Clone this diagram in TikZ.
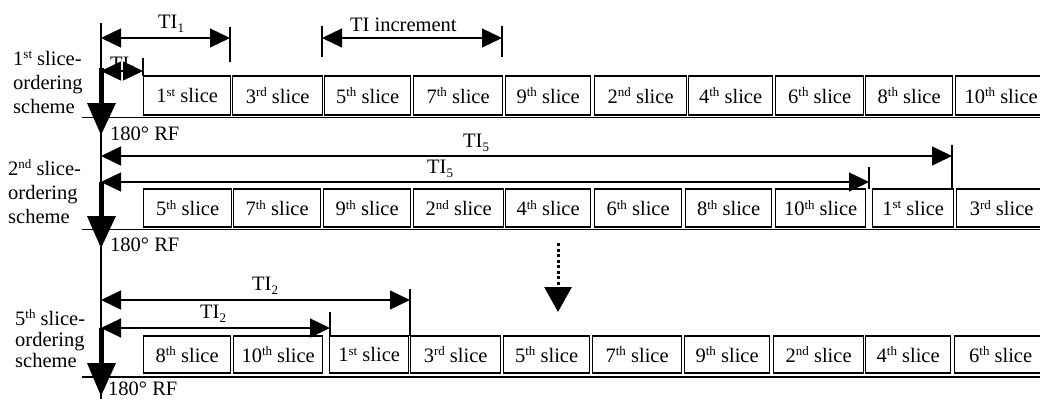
\documentclass[tikz,border=0pt]{standalone}
\usepackage{fontspec}
\setmainfont{Liberation Serif}
\usetikzlibrary{arrows.meta}
\newcommand\supx[1]{\raisebox{6.5pt}{\fontsize{13}{13}\selectfont #1}}
\newcommand\subx[1]{\raisebox{-4pt}{\fontsize{13}{13}\selectfont #1}}
\begin{document}
\begin{tikzpicture}[x=1pt,y=-1pt,
  txt/.style={font=\fontsize{20.5}{24}\selectfont, inner sep=0pt},
  lbl/.style={txt, anchor=base west},
  slicebox/.style={txt, draw, line width=1.3pt, anchor=west},
  thinline/.style={line width=1.3pt},
  baseln/.style={line width=1.6pt},
  dim/.style={line width=1.3pt, arrows={Triangle[length=20pt,width=19pt]-Triangle[length=20pt,width=19pt]}},
  dotarrow/.style={line width=3pt, dash pattern=on 3pt off 2.5pt, arrows={-Triangle[length=25pt,width=27pt]}}
]
\useasboundingbox (0,0) rectangle (1040,399);

% axis
\coordinate (ax1) at (101,23);
\coordinate (ax2) at (101,399);
\draw[thinline] (ax1) -- (ax2);

% baselines
\coordinate (b1s) at (82,117.5); \coordinate (b1e) at (1040,117.5);
\coordinate (b2s) at (82,229.5); \coordinate (b2e) at (1040,229.5);
\coordinate (b3s) at (82,377); \coordinate (b3e) at (1040,377);
\draw[baseln] (b1s) -- (b1e);
\draw[baseln] (b2s) -- (b2e);
\draw[baseln] (b3s) -- (b3e);

% row 1 boxes
\foreach \a/\b/\t [count=\i] in {
  143/230/{1\supx{st} slice}, 232/322/{3\supx{rd} slice}, 324/410/{5\supx{th} slice},
  413/502/{7\supx{th} slice}, 505/590/{9\supx{th} slice}, 594/686/{2\supx{nd} slice},
  688/772/{4\supx{th} slice}, 775/863/{6\supx{th} slice}, 865/952/{8\supx{th} slice},
  955/1046/{10\supx{th} slice}}
  \node[slicebox, minimum width={\b-\a}, minimum height=39] (ra\i) at (\a,95.5) {\t};

% row 2 boxes
\foreach \a/\b/\t [count=\i] in {
  143/231/{5\supx{th} slice}, 233/320/{7\supx{th} slice}, 323/410/{9\supx{th} slice},
  413/503/{2\supx{nd} slice}, 505/590/{4\supx{th} slice}, 594/681/{6\supx{th} slice},
  685/771/{8\supx{th} slice}, 775/865/{10\supx{th} slice}, 872/953/{1\supx{st} slice},
  956/1046/{3\supx{rd} slice}}
  \node[slicebox, minimum width={\b-\a}, minimum height=38] (rb\i) at (\a,208) {\t};

% row 3 boxes
\foreach \a/\b/\t [count=\i] in {
  143/230/{8\supx{th} slice}, 233/322/{10\supx{th} slice}, 329/408/{1\supx{st} slice},
  410/500/{3\supx{rd} slice}, 503/589/{5\supx{th} slice}, 592/681/{7\supx{th} slice},
  684/769/{9\supx{th} slice}, 773/863/{2\supx{nd} slice}, 865/950/{4\supx{th} slice},
  954/1046/{6\supx{th} slice}}
  \node[slicebox, minimum width={\b-\a}, minimum height=37] (rc\i) at (\a,354.5) {\t};

% thick RF arrows
\fill (98.5,68) rectangle (103.5,104);
\fill (87,103) -- (116,103) -- (101,135) -- cycle;
\fill (98.5,182) rectangle (103.5,217);
\fill (87,216) -- (116,216) -- (101,248) -- cycle;
\fill (98.5,328) rectangle (103.5,364);
\fill (87,363) -- (116,363) -- (101,396) -- cycle;

% left labels
\node[lbl] (l1a) at (13,65) {1\supx{st} slice-};
\node[lbl] (l1b) at (13,89) {ordering};
\node[lbl] (l1c) at (13,113) {scheme};
\node[lbl] (l2a) at (8,175) {2\supx{nd} slice-};
\node[lbl] (l2b) at (8,199) {ordering};
\node[lbl] (l2c) at (8,223) {scheme};
\node[lbl] (l3a) at (15,325) {5\supx{th} slice-};
\node[lbl] (l3b) at (15,346) {ordering};
\node[lbl] (l3c) at (15,367) {scheme};

\node[lbl] (rf1) at (110,140) {180° RF};
\node[lbl] (rf2) at (110,251) {180° RF};
\node[lbl] (rf3) at (108,395.5) {180° RF};

% TI1 (long)
\coordinate (d1s) at (101,38); \coordinate (d1e) at (230,38);
\coordinate (k1a) at (230,27); \coordinate (k1b) at (230,62);
\draw[thinline] (k1a) -- (k1b);
\draw[dim] (d1s) -- (d1e);
\node[lbl] (ti1a) at (158,28) {TI\subx{1}};

% TI1 (short)
\coordinate (d2s) at (101,71); \coordinate (d2e) at (143,71);
\coordinate (k2a) at (143,58); \coordinate (k2b) at (143,76);
\draw[thinline] (k2a) -- (k2b);
\draw[dim] (d2s) -- (d2e);
\node[lbl] (ti1b) at (110,70) {TI\subx{1}};

% TI increment
\coordinate (d3s) at (322,38); \coordinate (d3e) at (502,38);
\coordinate (k3a) at (322,26); \coordinate (k3b) at (322,57);
\coordinate (k4a) at (502,26); \coordinate (k4b) at (502,57);
\draw[thinline] (k3a) -- (k3b);
\draw[thinline] (k4a) -- (k4b);
\draw[dim] (d3s) -- (d3e);
\node[lbl] (tiinc) at (350,31) {TI increment};

% TI5 upper
\coordinate (d5s) at (101,156); \coordinate (d5e) at (952,156);
\coordinate (k5a) at (952,145); \coordinate (k5b) at (952,189);
\draw[thinline] (k5a) -- (k5b);
\draw[dim] (d5s) -- (d5e);
\node[lbl] (ti5a) at (463,147) {TI\subx{5}};

% TI5 lower
\coordinate (d6s) at (101,182); \coordinate (d6e) at (869,182);
\coordinate (k6a) at (869,167); \coordinate (k6b) at (869,189);
\draw[thinline] (k6a) -- (k6b);
\draw[dim] (d6s) -- (d6e);
\node[lbl] (ti5b) at (427,173) {TI\subx{5}};

% TI2 upper
\coordinate (d7s) at (101,300); \coordinate (d7e) at (410,300);
\coordinate (k7a) at (410,289); \coordinate (k7b) at (410,336);
\draw[thinline] (k7a) -- (k7b);
\draw[dim] (d7s) -- (d7e);
\node[lbl] (ti2a) at (252,290) {TI\subx{2}};

% TI2 lower
\coordinate (d8s) at (101,328); \coordinate (d8e) at (330,328);
\coordinate (k8a) at (330,312); \coordinate (k8b) at (330,336);
\draw[thinline] (k8a) -- (k8b);
\draw[dim] (d8s) -- (d8e);
\node[lbl] (ti2b) at (200,318) {TI\subx{2}};

% dotted arrow
\coordinate (dt1) at (558,243); \coordinate (dt2) at (558,312);
\draw[dotarrow] (dt1) -- (dt2);
\end{tikzpicture}
\end{document}
